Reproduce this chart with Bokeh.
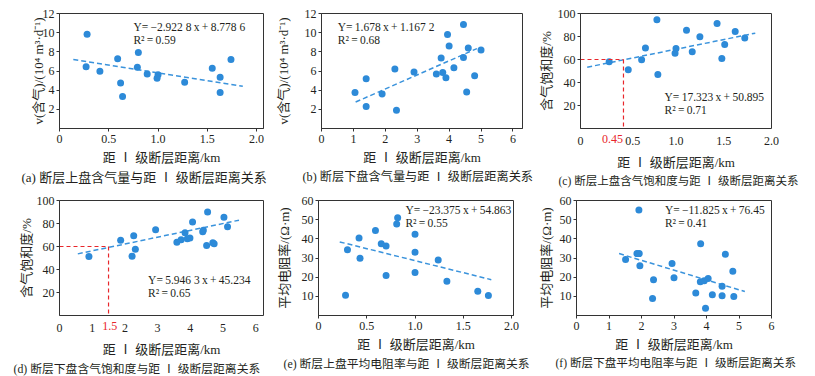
from bokeh.plotting import figure
from bokeh.layouts import row, column
from bokeh.models import Range1d, FixedTicker, Label, Title, LinearAxis
from bokeh.embed import file_html
from bokeh.resources import INLINE

FONT = "Liberation Serif, Noto Sans CJK SC"
TXT = "#231f20"
DOT = "#2d8ad8"
FIT = "#3a93dc"
RED = "#e8262b"

XLABEL = "距 Ⅰ 级断层距离/km"

# ---------------- data ----------------
# (a) upper wall gas content vs distance
a_x = [0.28, 0.27, 0.41, 0.59, 0.62, 0.64, 0.80, 0.79, 0.89, 1.00, 0.99, 1.27, 1.55, 1.63, 1.63, 1.74]
a_y = [9.83, 6.45, 5.97, 7.28, 4.76, 3.34, 7.93, 6.38, 5.69, 5.60, 5.25, 4.83, 6.28, 5.34, 3.76, 7.21]
a_fit_x = [0.14, 1.86]
a_fit_y = [7.2, 4.4]

# (b) lower wall gas content vs distance
b_x = [1.05, 1.40, 1.40, 1.90, 2.30, 2.35, 2.90, 3.60, 3.75, 3.80, 3.90, 3.95, 4.00, 4.15, 4.45, 4.45, 4.55, 4.60, 4.80, 5.00]
b_y = [3.75, 5.20, 2.30, 3.60, 6.20, 1.90, 5.90, 5.70, 7.35, 5.85, 5.30, 9.80, 8.60, 6.35, 10.85, 7.40, 3.80, 8.40, 5.50, 8.20]
b_fit_x = [1.07, 4.87]
b_fit_y = [2.76, 8.34]

# (c) upper wall gas saturation vs distance
c_x = [0.30, 0.50, 0.64, 0.68, 0.80, 0.81, 0.99, 1.00, 1.11, 1.17, 1.25, 1.43, 1.48, 1.51, 1.62, 1.72]
c_y = [58.0, 51.0, 59.7, 69.9, 94.5, 47.0, 65.5, 69.6, 85.5, 66.7, 79.7, 91.3, 60.9, 73.0, 84.3, 78.8]
c_fit_x = [0.07, 1.83]
c_fit_y = [53.3, 82.9]
c_ref_x = 0.45
c_ref_y = 60

# (d) lower wall gas saturation vs distance
d_x = [0.90, 1.87, 2.22, 2.27, 2.32, 2.94, 3.59, 3.72, 3.84, 3.91, 3.99, 4.07, 4.38, 4.40, 4.50, 4.53, 4.69, 4.73, 5.03, 5.14]
d_y = [51.3, 65.5, 51.6, 69.3, 57.7, 74.5, 63.8, 65.8, 71.9, 66.7, 67.5, 81.2, 72.8, 74.2, 60.9, 89.9, 63.2, 62.3, 85.5, 77.1]
d_fit_x = [0.56, 5.49]
d_fit_y = [53.6, 82.9]
d_ref_x = 1.5
d_ref_y = 60

# (e) upper wall mean resistivity vs distance
e_x = [0.28, 0.30, 0.42, 0.43, 0.59, 0.65, 0.70, 0.70, 0.81, 0.82, 1.00, 1.00, 1.00, 1.24, 1.33, 1.65, 1.76]
e_y = [10.6, 34.3, 40.5, 29.9, 44.3, 37.4, 36.3, 20.9, 47.8, 51.0, 42.4, 33.0, 22.4, 28.9, 17.9, 12.7, 10.4]
e_fit_x = [0.22, 1.79]
e_fit_y = [38.4, 18.7]

# (f) lower wall mean resistivity vs distance
f_x = [1.51, 1.86, 1.93, 1.92, 1.95, 2.34, 2.37, 2.94, 3.00, 3.67, 3.82, 3.81, 3.93, 4.05, 3.97, 4.18, 4.48, 4.48, 4.58, 4.81, 4.84]
f_y = [29.2, 32.3, 32.3, 55.1, 25.9, 8.9, 18.6, 27.1, 19.7, 11.8, 37.4, 17.6, 18.1, 19.3, 3.8, 10.8, 15.3, 10.3, 32.0, 23.1, 9.9]
f_fit_x = [1.31, 5.18]
f_fit_y = [32.3, 12.5]

ticks_x2 = [0, 0.5, 1.0, 1.5, 2.0]
ticks_x2c = [0, 0.547, 1.0, 1.5, 2.0]
ticks_x6 = [0, 1, 2, 3, 4, 5, 6]
ticks_y12 = [2, 4, 6, 8, 10, 12]
ticks_y100 = [20, 40, 60, 80, 100]
ticks_y60 = [10, 20, 30, 40, 50, 60]

T = "\u2009"
eqs = [f"Y={T}−2.922 8{T}x{T}+{T}8.778 6", f"Y={T}1.678{T}x{T}+{T}1.167 2", f"Y={T}17.323{T}x{T}+{T}50.895",
       f"Y={T}5.946 3{T}x{T}+{T}45.234", f"Y={T}−23.375{T}x{T}+{T}54.863", f"Y={T}−11.825{T}x{T}+{T}76.45"]
r2s = [f"R²{T}={T}0.59", f"R²{T}={T}0.68", f"R²{T}={T}0.71", f"R²{T}={T}0.65", f"R²{T}={T}0.55", f"R²{T}={T}0.41"]
captions = ["(a) 断层上盘含气量与距 Ⅰ 级断层距离关系",
            "(b) 断层下盘含气量与距 Ⅰ 级断层距离关系",
            "(c) 断层上盘含气饱和度与距 Ⅰ 级断层距离关系",
            "(d) 断层下盘含气饱和度与距 Ⅰ 级断层距离关系",
            "(e) 断层上盘平均电阻率与距 Ⅰ 级断层距离关系",
            "(f) 断层下盘平均电阻率与距 Ⅰ 级断层距离关系"]
ylabels = ["v(含气)/(10⁴ m³·d⁻¹)", "v(含气)/(10⁴ m³·d⁻¹)", "含气饱和度/%", "含气饱和度/%",
           "平均电阻率/(Ω·m)", "平均电阻率/(Ω·m)"]

# red marker tick labels under the x axis: (position, text)
c_mark = (0.335, "0.45")
d_mark = (1.54, "1.5")


def style_axis(ax):
    ax.axis_line_color = "#333333"
    ax.major_tick_line_color = "#333333"
    ax.major_tick_out = 3
    ax.major_tick_in = 0
    ax.minor_tick_line_color = None
    ax.major_label_text_font = FONT
    ax.major_label_text_font_size = "12px"
    ax.major_label_text_color = TXT
    ax.axis_label_text_font = FONT
    ax.axis_label_text_font_size = "13px"
    ax.axis_label_text_font_style = "normal"
    ax.axis_label_text_color = TXT


def panel(w, h, bl, br, bt, bb, xr, yr, xt, xlbl, yt, ylabel, ylstd, xs, ys, fx, fy,
          eq, r2, eqpos, red_first=None):
    p = figure(width=w, height=h, x_range=Range1d(*xr), y_range=Range1d(*yr),
               output_backend="svg", toolbar_location=None,
               x_axis_location=None if red_first else "below",
               min_border_left=bl, min_border_right=br, min_border_top=bt, min_border_bottom=bb)
    p.grid.visible = False
    p.outline_line_color = "#333333"
    p.outline_line_width = 1
    p.background_fill_color = "white"
    p.border_fill_color = "white"
    if red_first:
        rax = LinearAxis(ticker=FixedTicker(ticks=[red_first[0]]),
                         major_label_overrides={red_first[0]: red_first[1]})
        style_axis(rax)
        rax.axis_line_color = None
        rax.major_tick_line_color = None
        rax.major_label_text_color = RED
        rax.major_label_standoff = 3
        p.add_layout(rax, "below")
        xax = LinearAxis()
        p.add_layout(xax, "below")
        style_axis(xax)
        xax.axis_line_color = None
        xax.major_tick_line_color = None
        xax.major_tick_out = 0
        xax.major_label_standoff = -9
        xlstd = 7
    else:
        xax = p.xaxis[0]
        style_axis(xax)
        xax.major_label_standoff = 3
        xlstd = 4
    yax = p.yaxis[0]
    style_axis(yax)
    xax.ticker = FixedTicker(ticks=xt)
    if xlbl is not None:
        xax.major_label_overrides = xlbl
    yax.ticker = FixedTicker(ticks=yt)
    yax.major_label_standoff = 2
    xax.axis_label = XLABEL
    xax.axis_label_standoff = xlstd
    yax.axis_label = ylabel
    yax.axis_label_standoff = ylstd

    p.line(fx, fy, line_color=FIT, line_width=1.5, line_dash="5 3")
    p.scatter(xs, ys, size=7, fill_color=DOT, line_color=None)

    p.add_layout(Label(x=eqpos[0], y=eqpos[1], text=eq, text_font=FONT, text_font_size="11.5px",
                       text_color=TXT, text_baseline="middle"))
    p.add_layout(Label(x=eqpos[0], y=eqpos[2], text=r2, text_font=FONT, text_font_size="11.5px",
                       text_color=TXT, text_baseline="middle"))
    return p


def caption(p, cap, capoff, capsize):
    p.add_layout(Title(text=cap, align="left", offset=capoff, text_font=FONT,
                       text_font_size=capsize, text_font_style="normal", text_color=TXT,
                       standoff=1), "below")


lbl2 = {0: "0", 0.5: "0.5", 1: "1.0", 1.5: "1.5", 2: "2.0"}
lbl2c = {0: "0", 0.547: "0.5", 1: "1.0", 1.5: "1.5", 2: "2.0"}

H = 188
pa = panel(272, H, 59, 9, 13, 60, (0, 2.07), (0, 12), ticks_x2, lbl2, ticks_y12, ylabels[0], -6,
           a_x, a_y, a_fit_x, a_fit_y, eqs[0], r2s[0], (0.75, 10.6, 9.2))
pb = panel(263, H, 46, 13, 13, 60, (0, 6.3), (0, 12), ticks_x6, None, ticks_y12, ylabels[1], 11,
           b_x, b_y, b_fit_x, b_fit_y, eqs[1], r2s[1], (0.51, 10.6, 9.2))
pc = panel(280, H, 40, 44, 13, 60, (0, 2.0), (0, 100), ticks_x2c, lbl2c, ticks_y100, ylabels[2], 1,
           c_x, c_y, c_fit_x, c_fit_y, eqs[2], r2s[2], (0.88, 27.8, 16.2), red_first=c_mark)
pd = panel(272, H, 59, 9, 12, 60, (0, 6.24), (0, 100), ticks_x6, None, ticks_y100, ylabels[3], 0,
           d_x, d_y, d_fit_x, d_fit_y, eqs[3], r2s[3], (2.71, 30.7, 20.0), red_first=d_mark)
pe = panel(263, H, 46, 22, 12, 60, (0, 2.02), (0, 60), ticks_x2, lbl2, ticks_y60, ylabels[4], 7,
           e_x, e_y, e_fit_x, e_fit_y, eqs[4], r2s[4], (0.90, 55.0, 48.3))
pf = panel(280, H, 39, 44, 12, 60, (0, 6.0), (0, 60), ticks_x6, None, ticks_y60, ylabels[5], 3,
           f_x, f_y, f_fit_x, f_fit_y, eqs[5], r2s[5], (2.72, 55.0, 48.3))

# red reference lines
for p, rx, ry in ((pc, c_ref_x, c_ref_y), (pd, d_ref_x, d_ref_y)):
    p.line([0, rx], [ry, ry], line_color=RED, line_width=1.2, line_dash="4 3")
    p.line([rx, rx], [ry, 0], line_color=RED, line_width=1.2, line_dash="4 3")

caption(pa, captions[0], -38, "13px")
caption(pb, captions[1], -19, "12.2px")
caption(pc, captions[2], -22, "11.5px")
caption(pd, captions[3], -46, "11.8px")
caption(pe, captions[4], -35, "11.8px")
caption(pf, captions[5], -21, "11.6px")

layout = column(row(pa, pb, pc), row(pd, pe, pf))
open("out.html", "w").write(file_html(layout, INLINE))
